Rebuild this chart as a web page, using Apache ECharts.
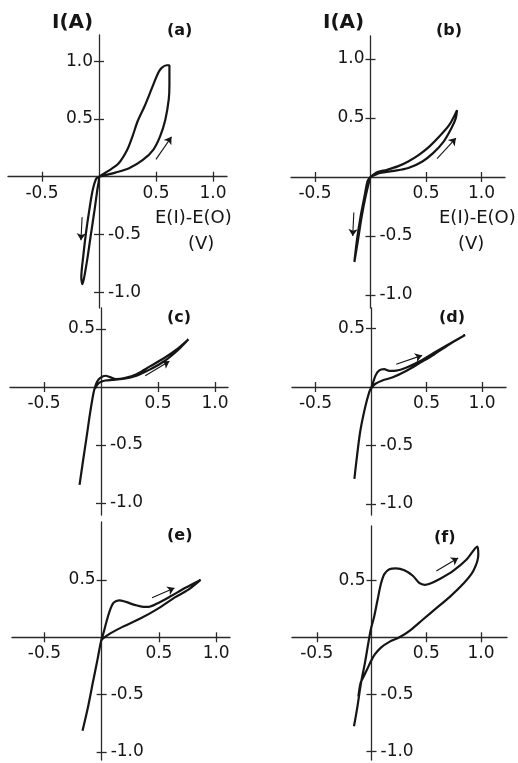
<!DOCTYPE html>
<html><head><meta charset="utf-8">
<script src="https://cdn.jsdelivr.net/npm/echarts@6/dist/echarts.min.js"></script>
<style>html,body{margin:0;padding:0;background:#fff}#c{width:518px;height:763px}</style>
</head><body><div id="c"></div>
<script>
// ---- data: [E(I)-E(O) in V, I in A] ----
const curveA = [[0,0],[0.052,0.012],[0.142,0.035],[0.264,0.073],[0.385,0.145],[0.476,0.233],[0.536,0.349],[0.582,0.494],[0.612,0.67],[0.618,0.8],[0.618,0.965],
  [0.594,0.965],[0.55,0.942],[0.52,0.9],[0.46,0.756],[0.4,0.61],[0.339,0.48],[0.294,0.349],[0.248,0.233],[0.173,0.116],[0.082,0.05],[0,0],
  [-0.024,-0.015],[-0.055,-0.116],[-0.085,-0.29],[-0.115,-0.494],[-0.139,-0.698],[-0.155,-0.872],[-0.145,-0.93],
  [-0.13,-0.872],[-0.1,-0.698],[-0.07,-0.494],[-0.039,-0.29],[-0.015,-0.116],[0,-0.015],[0,0]];
const curveB = [[0,0],[0.086,0.035],[0.213,0.052],[0.341,0.076],[0.468,0.132],[0.564,0.202],[0.659,0.3],[0.729,0.413],[0.768,0.497],[0.78,0.567],
  [0.71,0.441],[0.62,0.343],[0.53,0.258],[0.436,0.188],[0.34,0.132],[0.245,0.09],[0.15,0.062],[0.054,0.039],[0,0],
  [-0.025,-0.03],[-0.055,-0.17],[-0.09,-0.34],[-0.12,-0.52],[-0.145,-0.72],
  [-0.11,-0.52],[-0.08,-0.34],[-0.045,-0.17],[-0.01,-0.03],[0,0]];
const curveC = [[-0.188,-0.843],[-0.158,-0.64],[-0.127,-0.436],[-0.097,-0.233],[-0.067,-0.058],[-0.052,0],[-0.036,0.042],[-0.006,0.078],[0.039,0.097],[0.085,0.083],[0.13,0.069],[0.206,0.078],[0.312,0.111],[0.433,0.18],[0.555,0.25],[0.676,0.333],[0.767,0.411],
  [0.676,0.319],[0.555,0.222],[0.433,0.153],[0.312,0.097],[0.19,0.069],[0.1,0.061],[0.039,0.056],[-0.006,0.042],[-0.036,0.014],[-0.052,-0.014]];
const curveD = [[-0.15,-0.785],[-0.125,-0.58],[-0.097,-0.378],[-0.053,-0.174],[-0.016,-0.044],[0.01,0.014],[0.04,0.097],[0.071,0.14],[0.118,0.152],[0.165,0.138],[0.227,0.14],[0.32,0.167],[0.444,0.222],[0.568,0.292],[0.693,0.361],[0.848,0.444],
  [0.724,0.375],[0.568,0.278],[0.444,0.208],[0.32,0.139],[0.196,0.083],[0.102,0.056],[0.04,0.028],[0.01,0],[-0.006,-0.03]];
const curveE = [[-0.167,-0.816],[-0.121,-0.618],[-0.076,-0.391],[-0.036,-0.193],[-0.006,-0.037],[0.015,0.034],[0.045,0.147],[0.076,0.246],[0.106,0.303],[0.152,0.323],[0.212,0.309],[0.288,0.283],[0.364,0.266],[0.409,0.266],[0.485,0.295],[0.606,0.36],[0.727,0.43],[0.864,0.501],
  [0.758,0.416],[0.636,0.346],[0.485,0.246],[0.333,0.161],[0.182,0.091],[0.076,0.034],[0.015,-0.008],[0,-0.023]];
const curveF = [[-0.16,-0.78],[-0.129,-0.61],[-0.098,-0.412],[-0.058,-0.213],[-0.028,-0.043],[-0.006,0.071],[0.025,0.185],[0.055,0.327],[0.086,0.469],[0.117,0.554],[0.163,0.597],[0.224,0.605],[0.3,0.588],[0.377,0.54],[0.439,0.474],[0.485,0.46],[0.531,0.469],[0.623,0.511],[0.745,0.582],[0.868,0.682],[0.966,0.795],
  [0.975,0.724],[0.929,0.582],[0.837,0.469],[0.715,0.355],[0.592,0.256],[0.469,0.156],[0.347,0.057],[0.255,0],[0.163,-0.04],[0.086,-0.09],[0.03,-0.15],[0,-0.2],[-0.04,-0.28],[-0.075,-0.35],[-0.1,-0.4],[-0.12,-0.52]];

const arrowsA = [[[0.5,0.15],[0.636,0.345]], [[-0.148,-0.35],[-0.158,-0.55]]];
const arrowsB = [[[0.6,0.155],[0.77,0.33]], [[-0.15,-0.3],[-0.16,-0.5]]];
const arrowsC = [[[0.388,0.097],[0.6,0.222]]];
const arrowsD = [[[0.227,0.194],[0.46,0.27]]];
const arrowsE = [[[0.44,0.346],[0.636,0.43]]];
const arrowsF = [[[0.592,0.582],[0.791,0.696]]];

const xTickValues = [-0.5, 0.5, 1.0];
const yTicksTop = [-1.0, -0.5, 0.5, 1.0];
const yTicksLower = [-1.0, -0.5, 0.5];
const panelLetters = ['(a)', '(b)', '(c)', '(d)', '(e)', '(f)'];
const yAxisTitle = 'I(A)';
const xAxisTitle = 'E(I)-E(O)';
const xAxisUnit = '(V)';

// ---- layout (pixels) and axis ranges ----
const panels = [
  {curve: curveA, arrows: arrowsA, yTicks: yTicksTop, left: 8,   top: 35,  width: 219, height: 273, x: [-0.798, 1.123], y: [-1.137, 1.227], letter: [167, 23]},
  {curve: curveB, arrows: arrowsB, yTicks: yTicksTop, left: 291, top: 36,  width: 214, height: 272, x: [-0.716, 1.212], y: [-1.110, 1.195], letter: [436, 23]},
  {curve: curveC, arrows: arrowsC, yTicks: yTicksLower, left: 10,  top: 308, width: 218, height: 207, x: [-0.798, 1.114], y: [-1.103, 0.681], letter: [167, 310]},
  {curve: curveD, arrows: arrowsD, yTicks: yTicksLower, left: 292, top: 308, width: 214, height: 207, x: [-0.712, 1.216], y: [-1.094, 0.675], letter: [439, 310]},
  {curve: curveE, arrows: arrowsE, yTicks: yTicksLower, left: 12,  top: 522, width: 218, height: 238, x: [-0.783, 1.121], y: [-1.072, 1.007], letter: [167, 528]},
  {curve: curveF, arrows: arrowsF, yTicks: yTicksLower, left: 292, top: 526, width: 215, height: 234, x: [-0.726, 1.237], y: [-1.076, 0.976], letter: [434, 530]}
];

const INK = '#151515';
const FONT = 'DejaVu Sans';
const lineStyle = {color: '#2a2a2a', width: 1.3};
const fmt = v => v.toFixed(1);
const labelBase = {color: INK, fontSize: 17, fontFamily: FONT};

const grid = [], xAxis = [], yAxis = [], series = [], graphic = [];
panels.forEach((p, i) => {
  grid.push({left: p.left, top: p.top, width: p.width, height: p.height, containLabel: false, outerBoundsMode: 'none', show: false});
  // distances from grid edges to the zero lines (axes cross at the origin)
  const fromBottom = p.height * (0 - p.y[0]) / (p.y[1] - p.y[0]);
  const fromTop = p.height - fromBottom;
  const fromLeft = p.width * (0 - p.x[0]) / (p.x[1] - p.x[0]);
  const fromRight = p.width - fromLeft;
  const common = {type: 'value', gridIndex: i, splitLine: {show: false}};
  xAxis.push(Object.assign({}, common, {position: 'bottom', offset: -fromBottom, min: p.x[0], max: p.x[1],
    axisLine: {show: true, onZero: false, lineStyle},
    axisTick: {show: true, length: 5, customValues: xTickValues, lineStyle},
    axisLabel: Object.assign({show: true, customValues: xTickValues, formatter: fmt, margin: 8}, labelBase)}));
  xAxis.push(Object.assign({}, common, {position: 'top', offset: -fromTop, min: p.x[0], max: p.x[1],
    axisLine: {show: false, onZero: false},
    axisTick: {show: true, length: 5, customValues: xTickValues, lineStyle},
    axisLabel: {show: false}}));
  yAxis.push(Object.assign({}, common, {position: 'left', offset: -fromLeft, min: p.y[0], max: p.y[1],
    axisLine: {show: true, onZero: false, lineStyle},
    axisTick: {show: true, length: 5, customValues: p.yTicks, lineStyle},
    axisLabel: Object.assign({show: true, customValues: p.yTicks.filter(v => v > 0), formatter: fmt, margin: 6}, labelBase)}));
  yAxis.push(Object.assign({}, common, {position: 'right', offset: -fromRight, min: p.y[0], max: p.y[1],
    axisLine: {show: false, onZero: false},
    axisTick: {show: true, length: 5, customValues: p.yTicks, lineStyle},
    axisLabel: Object.assign({show: true, customValues: p.yTicks.filter(v => v < 0), formatter: fmt, margin: 9}, labelBase)}));
  series.push({type: 'line', xAxisIndex: 2 * i, yAxisIndex: 2 * i, data: p.curve, showSymbol: false, symbol: 'none',
    smooth: 0.3, lineStyle: {color: INK, width: 2.2}, z: 5, silent: true});
  series.push({type: 'lines', coordinateSystem: 'cartesian2d', xAxisIndex: 2 * i, yAxisIndex: 2 * i,
    data: p.arrows.map(a => ({coords: a})), symbol: ['none', 'arrow'], symbolSize: 7,
    lineStyle: {color: INK, width: 1.1, opacity: 1, curveness: 0}, z: 6, silent: true});
  graphic.push({type: 'text', left: p.letter[0], top: p.letter[1], style: {text: panelLetters[i], font: 'bold 16px "' + FONT + '"', fill: INK}});
});

// axis titles for (a) and (b)
[52, 323].forEach(x => {
  graphic.push({type: 'text', left: x, top: 13, style: {text: yAxisTitle, font: 'bold 20px "' + FONT + '"', fill: INK}});
});
[{x: 155, cx: 202}, {x: 439, cx: 472}].forEach(o => {
  graphic.push({type: 'text', left: o.x, top: 209, style: {text: xAxisTitle, font: '18px "' + FONT + '"', fill: INK}});
  graphic.push({type: 'text', left: o.cx - 14, top: 235, style: {text: xAxisUnit, font: '18px "' + FONT + '"', fill: INK}});
});

const chart = echarts.init(document.getElementById('c'), null, {renderer: 'canvas'});
chart.setOption({animation: false, backgroundColor: '#fff', grid, xAxis, yAxis, series, graphic});
</script></body></html>
